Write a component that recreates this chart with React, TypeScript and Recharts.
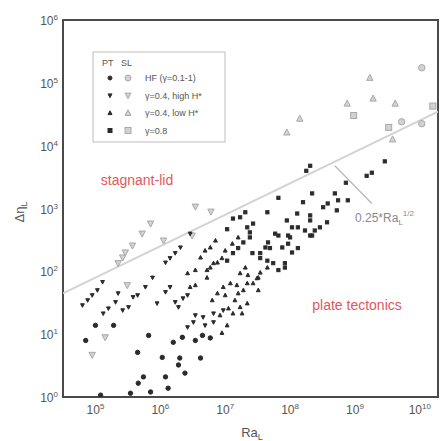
import React from 'react';
import {
  ScatterChart,
  Scatter,
  XAxis,
  YAxis,
  ReferenceArea,
} from 'recharts';

// values are log10(Ra_L), log10(Δη_L)
const hfPT = [
  [5.65, 0.71], [5.82, 0.98], [6.03, 0.63], [6.3, 0.62], [6.28, 0.51], [6.38, 0.38],
  [5.74, 0.32], [5.66, 0.22], [6.08, 0.32], [6.12, 0.14], [5.85, 0.08], [5.54, 0.06],
  [5.08, 0.03], [4.85, 0.9], [5.0, 1.14], [5.28, 1.14], [6.62, 0.62], [6.54, 0.9],
  [6.65, 0.98], [6.77, 0.94], [6.2, 0.87], [6.34, 0.95],
];
const highPT = [
  [4.8, 1.46], [4.88, 1.54], [4.95, 1.62], [5.03, 1.7], [5.11, 1.83],
  [5.12, 1.33], [5.2, 1.41], [5.31, 1.51], [5.35, 1.65], [5.42, 1.38], [5.51, 1.43], [5.58, 1.59],
  [5.65, 1.62], [5.77, 1.75], [5.88, 1.9], [6.08, 2.14], [6.15, 2.21], [6.23, 2.29], [6.31, 2.38], [6.46, 2.6],
  [5.95, 1.49], [6.08, 1.67], [6.15, 1.75], [6.23, 1.51], [6.28, 1.43], [6.42, 1.62], [6.35, 1.57],
  [6.42, 1.11], [6.51, 1.19], [6.66, 1.27], [6.54, 1.3], [6.69, 1.14], [6.82, 1.19], [6.82, 1.33], [6.97, 1.38],
];
const lowPT = [
  [6.46, 1.75], [6.54, 1.78], [6.72, 1.9], [6.77, 2.06], [6.88, 2.14], [6.42, 1.97], [6.54, 2.02], [6.72, 2.02], [6.82, 2.13],
  [6.62, 2.22], [6.69, 2.33], [6.77, 2.38], [6.85, 2.49],
  [6.97, 1.75], [7.08, 1.81], [7.23, 1.97], [7.34, 1.81], [7.51, 1.9], [7.51, 1.7], [6.8, 1.54], [6.88, 1.65], [7.2, 1.65], [7.34, 1.49],
  [7.26, 1.33], [7.0, 1.62], [7.15, 1.54], [7.05, 1.41], [7.23, 1.43], [7.12, 1.33], [7.03, 1.14], [6.92, 1.3], [6.95, 1.02],
  [7.31, 2.06], [7.35, 1.94], [7.43, 1.81], [7.18, 1.78], [7.28, 1.7], [7.49, 1.89], [7.54, 1.98], [7.65, 2.06],
  [6.95, 2.21], [7.0, 2.33], [7.11, 2.44], [7.2, 2.54],
];
const g08PT = [
  [7.03, 2.17], [7.12, 2.29], [7.2, 2.37], [7.28, 2.46], [7.38, 2.54],
  [7.42, 2.29], [7.54, 2.21], [7.65, 2.17], [7.74, 2.13], [7.92, 2.06], [7.82, 2.02], [7.92, 2.13],
  [7.54, 2.29], [7.62, 2.38], [7.66, 2.46], [7.77, 2.6], [7.69, 2.37], [7.88, 2.38], [7.97, 2.44], [8.03, 2.3], [8.12, 2.37],
  [7.03, 2.67], [7.12, 2.84], [7.23, 2.86], [7.31, 2.94], [7.34, 2.7], [7.38, 2.62], [7.43, 2.76], [7.65, 2.94], [7.82, 3.17],
  [7.82, 2.57], [7.97, 2.57], [8.03, 2.7], [8.23, 2.65], [8.31, 2.57], [8.46, 2.7], [8.57, 2.78],
  [8.0, 2.54], [8.12, 2.7], [8.34, 2.57], [8.38, 2.65], [7.95, 2.81], [8.31, 2.81], [8.31, 2.89], [8.11, 2.92],
  [8.2, 3.1], [8.51, 3.02], [8.58, 3.08], [8.74, 3.13], [8.72, 2.97], [8.89, 3.13], [8.34, 3.24], [8.69, 3.24],
  [8.86, 3.41], [9.18, 3.52], [9.26, 3.57], [9.46, 3.75], [8.25, 3.6], [8.31, 3.68],
];

const hfSL = [[10.03, 5.24], [9.72, 4.38], [10.03, 4.35]];
const highSL = [
  [5.85, 2.76], [5.72, 2.6], [6.05, 2.49], [5.57, 2.41], [5.42, 2.22], [5.35, 2.13], [5.46, 2.3],
  [6.49, 2.57], [5.49, 1.78], [4.95, 0.67], [5.15, 0.95], [6.54, 3.03], [6.78, 2.95],
];
const lowSL = [[9.23, 5.08], [8.88, 4.67], [9.28, 4.75], [9.62, 4.67], [8.15, 4.43], [7.95, 4.21], [9.58, 4.1]];
const g08SL = [[10.2, 4.63], [8.98, 4.48], [9.52, 4.29]];

// 0.25*Ra^1/2 scaling line and its label pointer
const fitLine = [[4.5, 1.65], [10.28, 4.54]];
const pointer = [[8.69, 3.68], [9.26, 3.08]];

const xTicks = [5, 6, 7, 8, 9, 10];
const yTicks = [0, 1, 2, 3, 4, 5, 6];

const legendRows = ['HF (γ=0.1-1)', 'γ=0.4, high H*', 'γ=0.4, low H*', 'γ=0.8'];
const legendKinds = ['circle', 'down', 'up', 'square'];

const toPts = (arr: number[][]) => arr.map(([a, b]) => ({ x: 10 ** a, y: 10 ** b }));

const FONT = '"Liberation Sans", Arial, sans-serif';
const DARK = { fill: '#2b2b2b', stroke: '#2b2b2b' };
const LIGHT = { fill: '#d2d2d2', stroke: '#a9a9a9' };

const drawMark = (kind: string, cx: number, cy: number, r: number, c: { fill: string; stroke: string }) => {
  if (kind === 'circle') return <circle cx={cx} cy={cy} r={r} fill={c.fill} stroke={c.stroke} strokeWidth={1} />;
  if (kind === 'square')
    return <rect x={cx - r} y={cy - r} width={2 * r} height={2 * r} fill={c.fill} stroke={c.stroke} strokeWidth={1} />;
  const s = kind === 'up' ? 1 : -1;
  const d = `M${cx},${cy - s * r * 1.1} L${cx + r},${cy + s * r * 0.8} L${cx - r},${cy + s * r * 0.8} Z`;
  return <path d={d} fill={c.fill} stroke={c.stroke} strokeWidth={1} />;
};

const shapeOf = (kind: string, r: number, c: { fill: string; stroke: string }) => (p: any) =>
  drawMark(kind, p.cx, p.cy, r, c);

const XTick = (p: any) => {
  const n = Math.round(Math.log10(p.payload.value));
  return (
    <text x={p.x} y={p.y + 9} textAnchor="middle" fontSize={12} fill="#555" fontFamily={FONT}>
      10<tspan dy={-5} fontSize={8}>{n}</tspan>
    </text>
  );
};

const YTick = (p: any) => {
  const n = Math.round(Math.log10(p.payload.value));
  return (
    <text x={p.x + 3} y={p.y + 5} textAnchor="end" fontSize={12} fill="#555" fontFamily={FONT}>
      10<tspan dy={-5} fontSize={8}>{n}</tspan>
    </text>
  );
};

const X0 = 10 ** 4.5;
const X1 = 10 ** 10.28;
const none = () => <g />;

export default function App() {
  return (
    <div style={{ position: 'absolute', left: 0, top: 0, width: 440, height: 441, background: '#fff' }}>
      <ScatterChart width={440} height={441} margin={{ top: 20, right: 2, bottom: 0, left: 0 }}>
        <XAxis
          dataKey="x"
          type="number"
          scale="log"
          domain={[X0, X1]}
          allowDataOverflow
          ticks={xTicks.map((t) => 10 ** t)}
          interval={0}
          tick={<XTick />}
          tickLine={false}
          axisLine={false}
          height={44}
        />
        <YAxis
          dataKey="y"
          type="number"
          scale="log"
          domain={[1, 1e6]}
          allowDataOverflow
          ticks={yTicks.map((t) => 10 ** t)}
          interval={0}
          tick={<YTick />}
          tickLine={false}
          axisLine={false}
          width={63}
        />
        <ReferenceArea x1={X0} x2={X1} y1={1} y2={1e6} fill="none" stroke="#4a4a4a" strokeWidth={2} />
        <Scatter data={toPts(fitLine)} line={{ stroke: '#d3d3d3', strokeWidth: 2 }} shape={none} isAnimationActive={false} />
        <Scatter data={toPts(pointer)} line={{ stroke: '#b5b5b5', strokeWidth: 1.2 }} shape={none} isAnimationActive={false} />
        <Scatter data={toPts(hfSL)} shape={shapeOf('circle', 3.2, LIGHT)} isAnimationActive={false} />
        <Scatter data={toPts(highSL)} shape={shapeOf('down', 3.2, LIGHT)} isAnimationActive={false} />
        <Scatter data={toPts(lowSL)} shape={shapeOf('up', 3.2, LIGHT)} isAnimationActive={false} />
        <Scatter data={toPts(g08SL)} shape={shapeOf('square', 3, LIGHT)} isAnimationActive={false} />
        <Scatter data={toPts(hfPT)} shape={shapeOf('circle', 2.2, DARK)} isAnimationActive={false} />
        <Scatter data={toPts(highPT)} shape={shapeOf('down', 1.9, DARK)} isAnimationActive={false} />
        <Scatter data={toPts(lowPT)} shape={shapeOf('up', 1.9, DARK)} isAnimationActive={false} />
        <Scatter data={toPts(g08PT)} shape={shapeOf('square', 1.6, DARK)} isAnimationActive={false} />
      </ScatterChart>

      <svg
        width={440}
        height={441}
        style={{ position: 'absolute', left: 0, top: 0, pointerEvents: 'none' }}
        fontFamily={FONT}
      >
        {/* legend */}
        <rect x={93} y={52} width={132} height={90} fill="#fff" stroke="#bdbdbd" strokeWidth={1} />
        <text x={102} y={66} fontSize={9} fill="#555">PT</text>
        <text x={121} y={66} fontSize={9} fill="#555">SL</text>
        {legendRows.map((label, i) => {
          const y = 78 + i * 17.5;
          return (
            <g key={label}>
              {drawMark(legendKinds[i], 110, y, 2, DARK)}
              {drawMark(legendKinds[i], 128, y, 3, LIGHT)}
              <text x={145} y={y + 3} fontSize={9} fill="#555">{label}</text>
            </g>
          );
        })}

        {/* regime labels */}
        <text x={137} y={185} textAnchor="middle" fontSize={14} fill="#e0585c">stagnant-lid</text>
        <text x={357} y={310} textAnchor="middle" fontSize={14} fill="#e0585c">plate tectonics</text>

        {/* scaling label */}
        <text x={355} y={222} fontSize={12} fill="#8a8a8a">
          0.25*Ra<tspan dy={3} fontSize={8}>L</tspan>
          <tspan dy={-9} fontSize={8}>1/2</tspan>
        </text>

        {/* axis titles */}
        <text x={252} y={437} textAnchor="middle" fontSize={13} fill="#555">
          Ra<tspan dy={3} fontSize={9}>L</tspan>
        </text>
        <text transform="translate(24,212) rotate(-90)" textAnchor="middle" fontSize={13} fill="#555">
          Δη<tspan dy={3} fontSize={9}>L</tspan>
        </text>
      </svg>
    </div>
  );
}
